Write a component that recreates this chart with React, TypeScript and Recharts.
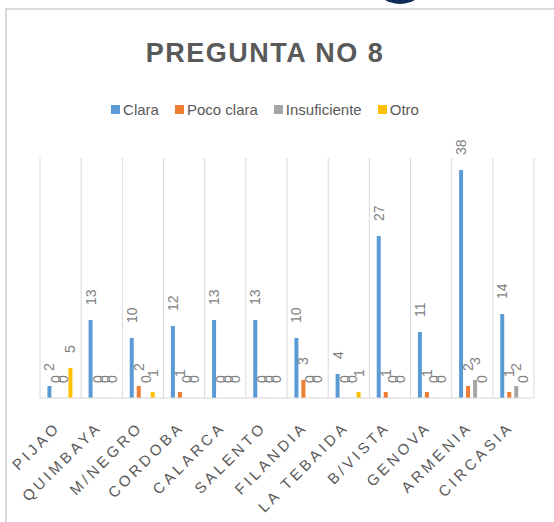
import { BarChart, Bar, XAxis, YAxis, CartesianGrid, LabelList } from "recharts";

const municipios = [
  "PIJAO",
  "QUIMBAYA",
  "M/NEGRO",
  "CORDOBA",
  "CALARCA",
  "SALENTO",
  "FILANDIA",
  "LA TEBAIDA",
  "B/VISTA",
  "GENOVA",
  "ARMENIA",
  "CIRCASIA",
];
const clara = [2, 13, 10, 12, 13, 13, 10, 4, 27, 11, 38, 14];
const pocoClara = [0, 0, 2, 1, 0, 0, 3, 0, 1, 1, 2, 1];
const insuficiente = [0, 0, 0, 0, 0, 0, 0, 0, 0, 0, 3, 2];
const otro = [5, 0, 1, 0, 0, 0, 0, 1, 0, 0, 0, 0];

const series = [
  { key: "Clara", values: clara, color: "#5b9bd5" },
  { key: "Poco clara", values: pocoClara, color: "#ed7d31" },
  { key: "Insuficiente", values: insuficiente, color: "#a5a5a5" },
  { key: "Otro", values: otro, color: "#ffc000" },
];

const data = municipios.map((name, i) => {
  const row: Record<string, string | number> = { name };
  series.forEach((s) => (row[s.key] = s.values[i]));
  return row;
});

const FONT = "'Liberation Sans', sans-serif";
const TEXT = "#595959";

function CityTick({ x, y, payload }: any) {
  const ax = x + 1;
  const ay = y + 22;
  return (
    <text
      x={ax}
      y={ay}
      transform={`rotate(-45, ${ax}, ${ay})`}
      textAnchor="end"
      fill={TEXT}
      fontSize={15}
      letterSpacing={3.5}
      fontFamily={FONT}
    >
      {payload.value}
    </text>
  );
}

function ValueLabel({ x, y, width, height, value }: any) {
  const cx = x + width / 2;
  const top = height < 0 ? y + height : y;
  const ty = top - 15;
  return (
    <text
      x={cx}
      y={ty}
      transform={`rotate(-90, ${cx}, ${ty})`}
      textAnchor="start"
      dominantBaseline="central"
      fill="#7f7f7f"
      fontSize={14}
      fontFamily={FONT}
    >
      {value}
    </text>
  );
}

function LegendRow() {
  return (
    <div style={{ display: "flex", justifyContent: "center", gap: 16, fontFamily: FONT, fontSize: 15, color: TEXT }}>
      {series.map((s) => (
        <span key={s.key} style={{ display: "flex", alignItems: "center" }}>
          <span style={{ width: 9, height: 9, background: s.color, marginRight: 3, display: "inline-block" }} />
          {s.key}
        </span>
      ))}
    </div>
  );
}

export default function App() {
  return (
    <div style={{ position: "absolute", left: 0, top: 0, width: 554, height: 522, background: "#fff", overflow: "hidden" }}>
      <div style={{ position: "absolute", left: 5, top: 8, width: 549, height: 514, borderLeft: "2px solid #d9d9d9", borderTop: "2px solid #d9d9d9" }} />
      <svg style={{ position: "absolute", left: 370, top: 0 }} width={60} height={8}>
        <ellipse cx={30} cy={-18} rx={26} ry={22} fill="#102a5a" />
      </svg>
      <div
        style={{
          position: "absolute",
          left: -12,
          top: 38,
          width: 554,
          textAlign: "center",
          fontFamily: FONT,
          fontWeight: "bold",
          fontSize: 27,
          letterSpacing: 1.5,
          color: TEXT,
        }}
      >
        PREGUNTA NO 8
      </div>
      <div style={{ position: "absolute", left: -12, top: 101, width: 554 }}>
        <LegendRow />
      </div>
      <div style={{ position: "absolute", left: 0, top: 0 }}>
        <BarChart
          width={554}
          height={522}
          data={data}
          margin={{ top: 158, right: 20, bottom: 94, left: 40 }}
          barCategoryGap="18%"
          barGap={3}
        >
          <CartesianGrid
            horizontal={false}
            stroke="#d9d9d9"
            verticalCoordinatesGenerator={({ offset }: any) =>
              municipios
                .map((_, i) => offset.left + (i * offset.width) / municipios.length)
                .concat(offset.left + offset.width)
            }
          />
          <XAxis
            dataKey="name"
            interval={0}
            tickLine={false}
            axisLine={{ stroke: "#d9d9d9" }}
            tick={<CityTick />}
          />
          <YAxis hide domain={[0, 40]} />
          {series.map((s) => (
            <Bar key={s.key} dataKey={s.key} fill={s.color} minPointSize={0.1} isAnimationActive={false}>
              <LabelList dataKey={s.key} content={<ValueLabel />} />
            </Bar>
          ))}
        </BarChart>
      </div>
    </div>
  );
}
